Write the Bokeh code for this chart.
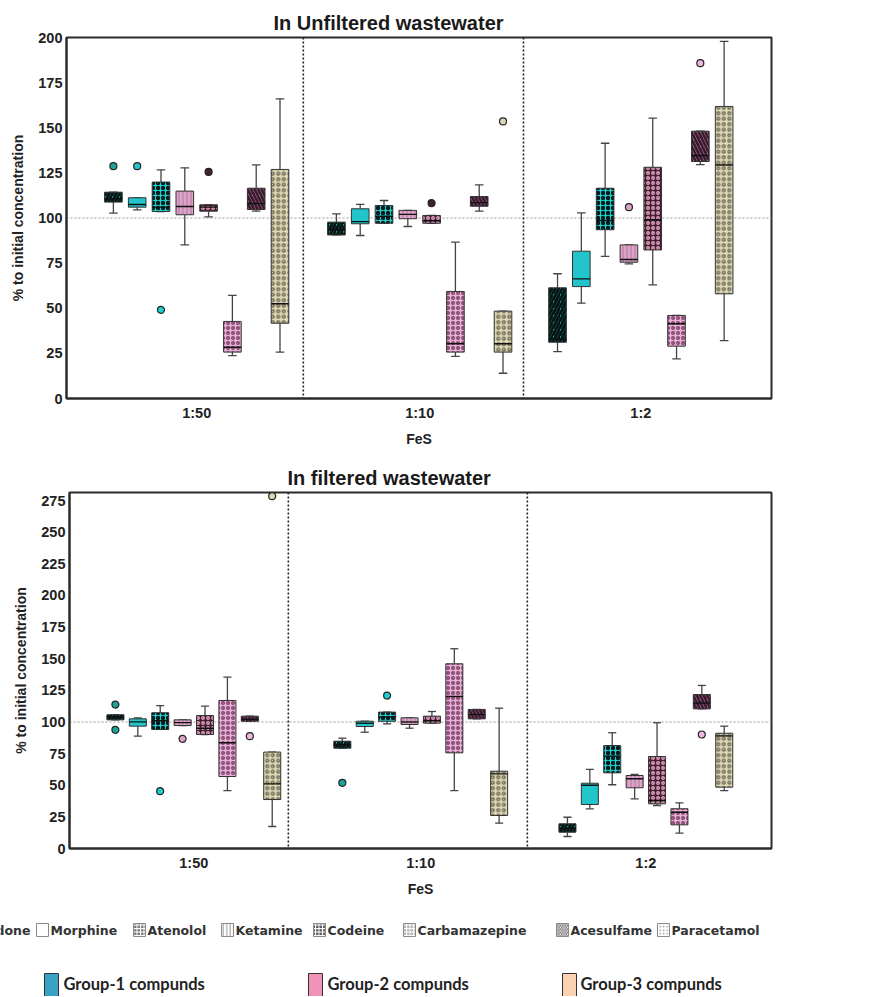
from bokeh.plotting import figure
from bokeh.models import ColumnDataSource, FixedTicker, Span, Range1d
from bokeh.embed import file_html
from bokeh.resources import INLINE
from bokeh.core.properties import value

# ---------------- data ----------------
groups = ["1:50", "1:10", "1:2"]
compounds = ["Methadone", "Morphine", "Atenolol", "Ketamine", "Codeine",
             "Carbamazepine", "Acesulfame", "Paracetamol"]

# Unfiltered wastewater (rows = FeS ratio, columns = compounds)
unf_lo = [[102.7, 104.5, 103.6, 85.1, 100.6, 23.8, 103.8, 25.7],
          [90.6, 90.3, 97.1, 95.3, 97.1, 23.3, 103.8, 14.0],
          [26.0, 52.8, 78.7, 74.6, 63.0, 22.0, 129.6, 32.1]]
unf_q1 = [[108.8, 106.0, 103.6, 101.8, 103.8, 25.7, 104.7, 41.7],
          [90.6, 96.8, 97.1, 99.6, 97.1, 25.7, 106.5, 25.7],
          [31.2, 62.0, 93.5, 75.5, 82.3, 29.0, 131.3, 58.0]]
unf_med = [[110.5, 107.5, 106.0, 106.4, 106.0, 28.4, 108.0, 52.5],
           [93.5, 98.0, 101.0, 102.0, 98.5, 30.3, 108.5, 30.3],
           [33.0, 66.3, 98.6, 77.0, 99.0, 41.4, 134.6, 129.4]]
unf_q3 = [[114.3, 111.2, 119.9, 114.9, 107.3, 42.7, 116.5, 126.9],
          [97.7, 105.1, 106.9, 104.2, 101.4, 59.3, 111.9, 48.4],
          [61.3, 81.6, 116.5, 85.1, 128.1, 46.0, 148.1, 161.8]]
unf_hi = [[114.3, 111.2, 126.7, 127.8, 107.3, 57.1, 129.4, 166.0],
          [102.3, 107.5, 109.7, 104.2, 101.4, 86.6, 118.4, 48.4],
          [69.1, 102.8, 141.4, 85.1, 155.3, 46.0, 148.1, 197.8]]
unf_out_group = [0, 0, 0, 0, 1, 1, 2, 2]
unf_out_comp = [0, 1, 2, 4, 4, 7, 3, 6]
unf_out_val = [128.7, 128.7, 49.1, 125.5, 108.2, 153.5, 106.0, 185.8]

# Filtered wastewater
fil_lo = [[101.7, 88.8, 94.1, 97.2, 90.1, 45.8, 100.6, 17.4],
          [79.3, 91.9, 98.5, 95.1, 99.1, 45.8, 102.5, 20.0],
          [9.5, 31.4, 50.4, 39.3, 34.0, 12.1, 110.4, 45.8]]
fil_q1 = [[101.7, 96.7, 94.1, 97.2, 90.1, 56.9, 100.6, 38.7],
          [79.3, 96.4, 100.6, 98.0, 99.1, 75.6, 102.5, 26.1],
          [12.9, 34.8, 59.8, 48.0, 35.3, 18.7, 110.4, 48.5]]
fil_med = [[104.0, 100.1, 101.0, 99.5, 95.0, 83.6, 102.0, 51.1],
           [82.0, 99.0, 104.0, 100.0, 101.0, 120.2, 106.0, 59.0],
           [16.0, 50.0, 73.0, 55.1, 38.0, 28.7, 115.0, 89.0]]
fil_q3 = [[105.7, 102.5, 107.3, 101.7, 105.1, 117.0, 104.6, 76.2],
          [84.8, 100.6, 107.8, 103.3, 104.6, 146.0, 109.9, 61.1],
          [19.5, 51.6, 81.4, 57.7, 72.7, 31.4, 121.7, 91.1]]
fil_hi = [[105.7, 103.3, 113.0, 101.7, 112.5, 135.4, 104.6, 76.2],
          [87.2, 100.6, 107.8, 103.3, 108.3, 157.9, 109.9, 110.9],
          [24.7, 62.5, 91.5, 58.5, 99.4, 36.1, 128.9, 96.7]]
fil_out_group = [0, 0, 0, 0, 0, 0, 1, 1, 2]
fil_out_comp = [0, 0, 2, 3, 6, 7, 0, 2, 6]
fil_out_val = [113.8, 93.8, 45.3, 86.7, 88.8, 278.5, 51.9, 120.9, 90.1]

legend_groups = ["Group-1 compunds", "Group-2 compunds", "Group-3 compunds"]

# ---------------- styles ----------------
STY = {
    "Methadone":     dict(fill="#1ba49b", hatch="/",  hcolor="#081414", hscale=7.0, hweight=2.8),
    "Morphine":      dict(fill="#22c5cb", hatch=" ",  hcolor="#000000", hscale=6.0, hweight=1.0),
    "Atenolol":      dict(fill="#20cfd0", hatch="o",  hcolor="#061616", hscale=5.0, hweight=1.8),
    "Ketamine":      dict(fill="#dda4c9", hatch="|",  hcolor="#b5769f", hscale=4.0, hweight=1.0),
    "Codeine":       dict(fill="#42202e", hatch="o",  hcolor="#e4a2c9", hscale=5.0, hweight=1.3),
    "Carbamazepine": dict(fill="#e7afd6", hatch="o",  hcolor="#7e4268", hscale=5.0, hweight=1.4),
    "Acesulfame":    dict(fill="#ebb9de", hatch="\\", hcolor="#3c1b30", hscale=7.0, hweight=2.8),
    "Paracetamol":   dict(fill="#dcd6b4", hatch="o",  hcolor="#706b55", hscale=5.5, hweight=1.4),
}
LEG_ICON = {
    "Methadone": "/", "Morphine": " ", "Atenolol": "o", "Ketamine": "|",
    "Codeine": "o", "Carbamazepine": "o", "Acesulfame": "\\", "Paracetamol": ".",
}
GROUP_COLORS = ["#3aa2c4", "#f292b9", "#fbd2b4"]
FONT = "Liberation Sans"
W = 869


def make_panel(title, lo, q1, med, q3, hi, og, oc, ov, offs, vlines, xr, bw,
               ymax, ytop, height, b_top, b_bottom, b_left, b_right, t_offset):
    p = figure(width=W, height=height, output_backend="svg", toolbar_location=None,
               x_range=Range1d(*xr), y_range=Range1d(0, ytop),
               min_border_top=b_top, min_border_bottom=b_bottom,
               min_border_left=b_left, min_border_right=b_right)
    p.title.text = title
    p.title.align = "left"
    p.title.offset = t_offset
    p.title.text_font = FONT
    p.title.text_font_size = "20px"
    p.title.text_font_style = "bold"
    p.title.text_color = "#1a1a1a"
    p.title.standoff = 8
    p.xgrid.visible = False
    p.ygrid.visible = False
    p.outline_line_color = "#2a2a2a"
    p.outline_line_width = 2
    p.background_fill_color = "white"
    p.border_fill_color = "white"

    data = dict(x=[], lo=[], q1=[], med=[], q3=[], hi=[], fill=[], hatch=[],
                hcolor=[], hscale=[], hweight=[])
    for g in range(len(groups)):
        for k, c in enumerate(compounds):
            s = STY[c]
            data["x"].append(offs[g] + k)
            data["lo"].append(lo[g][k]); data["q1"].append(q1[g][k])
            data["med"].append(med[g][k]); data["q3"].append(q3[g][k])
            data["hi"].append(hi[g][k])
            data["fill"].append(s["fill"]); data["hatch"].append(s["hatch"])
            data["hcolor"].append(s["hcolor"]); data["hscale"].append(s["hscale"])
            data["hweight"].append(s["hweight"])
    data["x0"] = [x - bw / 2 for x in data["x"]]
    data["x1"] = [x + bw / 2 for x in data["x"]]
    cw = 0.36
    data["c0"] = [x - cw / 2 for x in data["x"]]
    data["c1"] = [x + cw / 2 for x in data["x"]]
    src = ColumnDataSource(data)

    p.add_layout(Span(location=100, dimension="width", line_color="#9a9a9a",
                      line_dash="2 2", line_width=1.2, level="underlay"))
    for v in vlines:
        p.add_layout(Span(location=v, dimension="height", line_color="#222222",
                          line_dash="2 2", line_width=1.6, level="underlay"))

    wc = "#444444"
    p.segment(x0="x", x1="x", y0="lo", y1="q1", source=src, line_color=wc, line_width=1.3)
    p.segment(x0="x", x1="x", y0="q3", y1="hi", source=src, line_color=wc, line_width=1.3)
    p.segment(x0="c0", x1="c1", y0="lo", y1="lo", source=src, line_color=wc, line_width=1.3)
    p.segment(x0="c0", x1="c1", y0="hi", y1="hi", source=src, line_color=wc, line_width=1.3)
    p.vbar(x="x", bottom="q1", top="q3", width=bw, source=src, fill_color="fill",
           hatch_pattern="hatch", hatch_color="hcolor", hatch_scale="hscale",
           hatch_weight="hweight", line_color="#333333", line_width=1)
    p.segment(x0="x0", x1="x1", y0="med", y1="med", source=src,
              line_color="#111111", line_width=1.4)

    osrc = ColumnDataSource(dict(
        x=[offs[g] + k for g, k in zip(og, oc)], y=ov,
        fill=[STY[compounds[k]]["fill"] for k in oc]))
    p.scatter(x="x", y="y", source=osrc, size=7, fill_color="fill",
              line_color="#222222", line_width=1.2)

    # axes
    p.xaxis.ticker = FixedTicker(ticks=[o + 3.5 for o in offs])
    p.xaxis.major_label_overrides = {o + 3.5: g for o, g in zip(offs, groups)}
    p.yaxis.ticker = FixedTicker(ticks=list(range(0, ymax + 1, 25)))
    p.xaxis.axis_label = "FeS"
    p.yaxis.axis_label = "% to initial concentration"
    for ax in (p.xaxis[0], p.yaxis[0]):
        ax.axis_line_color = "#2a2a2a"
        ax.axis_line_width = 2
        ax.major_tick_line_color = None
        ax.minor_tick_line_color = None
        ax.major_tick_out = 0
        ax.major_tick_in = 0
        ax.minor_tick_out = 0
        ax.minor_tick_in = 0
        ax.major_label_text_font = FONT
        ax.major_label_text_font_style = "bold"
        ax.major_label_text_font_size = "14.5px"
        ax.major_label_text_color = "#222222"
        ax.axis_label_text_font = FONT
        ax.axis_label_text_font_style = "bold"
        ax.axis_label_text_font_size = "14px"
        ax.axis_label_text_color = "#222222"
    p.xaxis.major_label_standoff = 6
    p.xaxis.axis_label_standoff = 7
    p.yaxis.major_label_standoff = 4
    p.yaxis.axis_label_standoff = 9
    return p


p1 = make_panel("In Unfiltered wastewater", unf_lo, unf_q1, unf_med, unf_q3, unf_hi,
                unf_out_group, unf_out_comp, unf_out_val,
                offs=[0.0, 9.37, 18.66], vlines=[7.98, 17.23], xr=(-1.97, 27.65), bw=0.74,
                ymax=200, ytop=200, height=455, b_top=37, b_bottom=57, b_left=66,
                b_right=W - 771, t_offset=207)
p2 = make_panel("In filtered wastewater", fil_lo, fil_q1, fil_med, fil_q3, fil_hi,
                fil_out_group, fil_out_comp, fil_out_val,
                offs=[0.0, 10.13, 20.18], vlines=[7.72, 18.39], xr=(-2.05, 29.29), bw=0.76,
                ymax=275, ytop=281.4, height=445, b_top=37, b_bottom=52, b_left=69,
                b_right=W - 771, t_offset=218)

# ---------------- legend strip (page-pixel coordinates) ----------------
LEG_TOP, LEG_BOTTOM = 900, 996
leg = figure(width=W, height=LEG_BOTTOM - LEG_TOP, output_backend="svg",
             toolbar_location=None,
             x_range=Range1d(0, W), y_range=Range1d(LEG_BOTTOM, LEG_TOP),
             min_border=0, min_border_left=0, min_border_right=0,
             min_border_top=0, min_border_bottom=0)
leg.axis.visible = False
leg.grid.visible = False
leg.outline_line_color = None

icon_left = [-40, 36, 133, 221, 313, 403, 556, 657]
text_left = [-47, 50, 147, 235, 327, 417, 570, 671]
isrc = ColumnDataSource(dict(
    x=[l + 6 for l in icon_left[1:]], y=[929.5] * 7,
    hatch=[LEG_ICON[c] for c in compounds[1:]],
    hcolor=["#8a8a8a", "#666666", "#999999", "#444444", "#aaaaaa", "#777777", "#999999"]))
leg.rect(x="x", y="y", width=12, height=13, source=isrc, fill_color="white",
         hatch_pattern="hatch", hatch_color="hcolor", hatch_scale=3.5, hatch_weight=1,
         line_color="#8a8a8a", line_width=1)
# the first legend entry is cut by the left edge, as in the original figure
leg.text(x=[30], y=[930], text=[compounds[0]], text_align="right",
         text_baseline="middle", text_font=value("DejaVu Sans"),
         text_font_style="bold", text_font_size="12.5px", text_color="#333333")
leg.text(x=text_left[1:], y=[930] * 7, text=compounds[1:], text_align="left",
         text_baseline="middle", text_font=value("DejaVu Sans"),
         text_font_style="bold", text_font_size="12.5px", text_color="#333333")

sw_left = [44, 308, 562]
gt_left = [63, 327, 580]
leg.rect(x=[s + 7 for s in sw_left], y=[985] * 3, width=14, height=24,
         fill_color=GROUP_COLORS, line_color="#333333", line_width=1)
leg.text(x=gt_left, y=[983] * 3, text=legend_groups, text_align="left",
         text_baseline="middle", text_font=value("Lato"), text_font_style="bold",
         text_font_size="16.5px", text_color="#222222")

# separate roots so that Bokeh does not align the plot frames with each other
open("out.html", "w").write(file_html([p1, p2, leg], INLINE))
